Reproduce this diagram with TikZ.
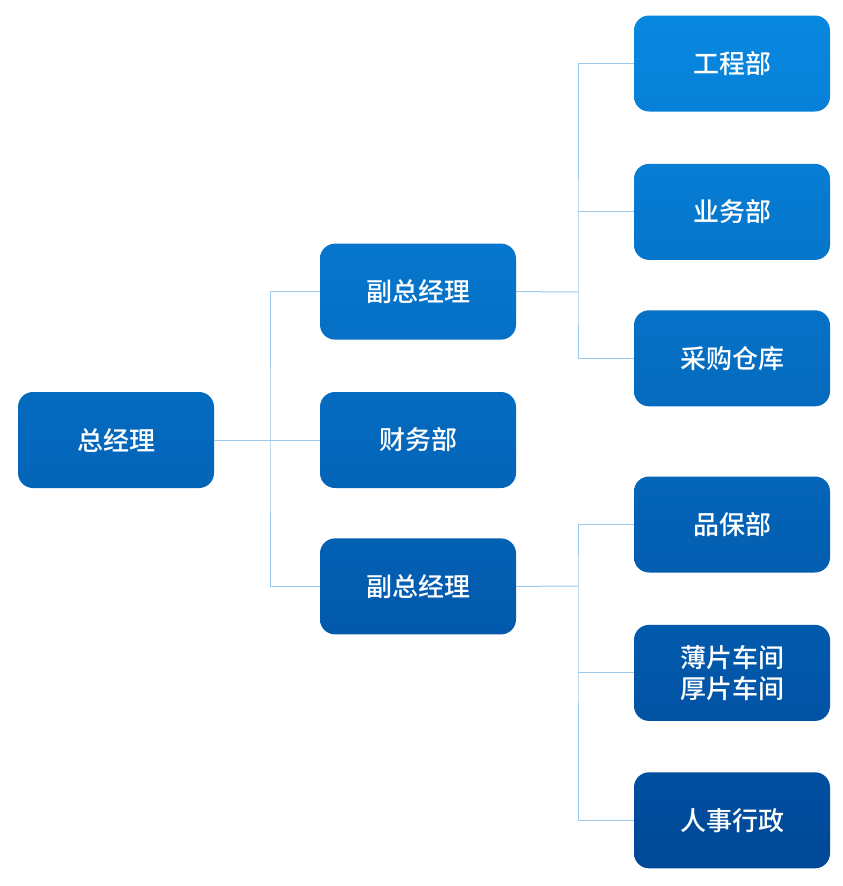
\documentclass[tikz,border=0pt]{standalone}
\usepackage{fontspec}
\newfontfamily\cjk{Noto Sans CJK SC Medium}
\usepackage{tikz}
\usetikzlibrary{positioning}
\definecolor{sky}{RGB}{8,137,225}
\definecolor{deep}{RGB}{0,70,150}
\definecolor{wire}{RGB}{156,200,236}
\tikzset{
  dept/.style 2 args={rectangle, rounded corners=15pt, minimum width=196pt,
    minimum height=96pt, align=center, text=white, inner sep=0pt,
    font=\cjk\fontsize{26}{31}\selectfont,
    top color=deep!#1!sky, bottom color=deep!#2!sky},
  link/.style={draw=wire, line width=1pt}
}
\begin{document}
\begin{tikzpicture}[x=1pt, y=-1pt]
          \useasboundingbox (0,0) rectangle (843,886);

          % Define nodes
          \node[dept={44}{55}] (GM) at (116,440) {总经理};
          \node[dept={44}{55}] (Finance) at (418,440) {财务部};
          \node[dept={27}{38}, above=52pt of Finance] (VPa) {副总经理};
          \node[dept={61}{72}, below=50pt of Finance] (VPb) {副总经理};

          \node[dept={2}{13}] (Eng) at (732,63.5) {工程部};
          \node[dept={18}{29}, below=52pt of Eng] (Sales) {业务部};
          \node[dept={35}{46}, below=50pt of Sales] (Purchase) {采购仓库};
          \node[dept={54}{65}] (Quality) at (732,524.5) {品保部};
          \node[dept={70}{81}, below=52pt of Quality] (Workshop) {薄片车间\\厚片车间};
          \node[dept={87}{98}, below=51pt of Workshop] (HR) {人事行政};

          % Junctions
          \coordinate (J0) at (270,440);
          \coordinate (J1) at (578,292);
          \coordinate (J2) at (578,586);

          % Connect the nodes
          \draw[link] (GM.east) -- (Finance.west);
          \draw[link] (VPa.west) -| (J0) |- (VPb.west);

          \draw[link] (VPa.east) -- (J1);
          \draw[link] (Eng.west) -| (J1) |- (Purchase.west);
          \draw[link] (Sales.west) -- (Sales.west -| J1);

          \draw[link] (VPb.east) -- (J2);
          \draw[link] (Quality.west) -| (J2) |- (HR.west);
          \draw[link] (Workshop.west) -- (Workshop.west -| J2);

\end{tikzpicture}
\end{document}
